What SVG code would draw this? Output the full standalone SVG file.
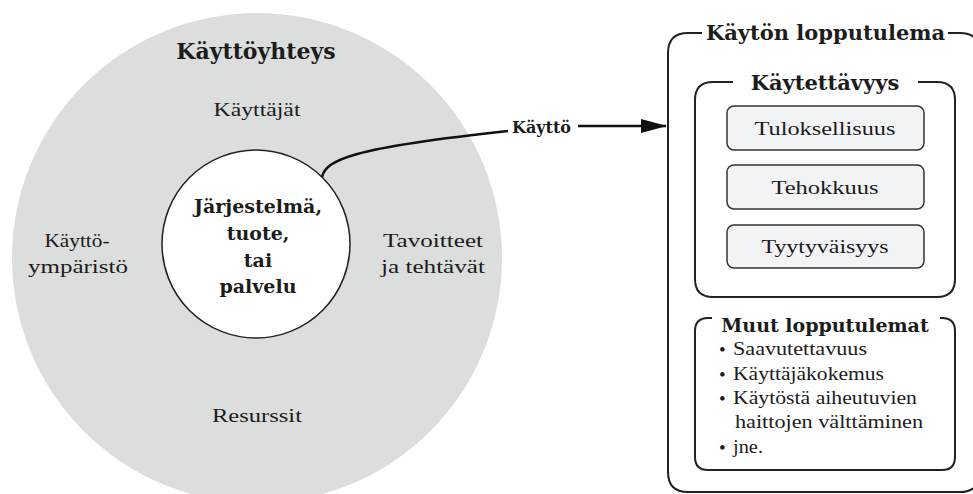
<svg xmlns="http://www.w3.org/2000/svg" width="973" height="494" viewBox="0 0 973 494">
<style>
text{font-family:"Liberation Serif","DejaVu Serif",serif;fill:#1c1c1c}
.r{font-size:18px}
.b{font-family:"DejaVu Serif","Liberation Serif",serif;font-weight:bold}
.m{text-anchor:middle}
.dot{font-size:19px}
.frame{fill:none;stroke:#222;stroke-width:2}
.sub{fill:#f2f3f4;stroke:#333;stroke-width:1.5}
.conn{fill:none;stroke:#111;stroke-width:2.5}
</style>
<defs>
<marker id="arr" viewBox="0 0 26 14" refX="25" refY="7" markerWidth="26" markerHeight="14" markerUnits="userSpaceOnUse" orient="auto">
<path d="M0,0 L26,7 L0,14 Z" fill="#111"/>
</marker>
</defs>
<g id="context">
<circle cx="257" cy="258" r="245" fill="#dbdedd"/>
<text class="b m" x="256" y="59" font-size="22">Käyttöyhteys</text>
<text class="r m" x="257" y="116" textLength="87" lengthAdjust="spacingAndGlyphs">Käyttäjät</text>
<text class="r m" x="77" y="247" textLength="65" lengthAdjust="spacingAndGlyphs">Käyttö-</text>
<text class="r m" x="78" y="273" textLength="100" lengthAdjust="spacingAndGlyphs">ympäristö</text>
<text class="r m" x="433" y="247" textLength="100" lengthAdjust="spacingAndGlyphs">Tavoitteet</text>
<text class="r m" x="433" y="273" textLength="104" lengthAdjust="spacingAndGlyphs">ja tehtävät</text>
<text class="r m" x="257" y="422" textLength="90" lengthAdjust="spacingAndGlyphs">Resurssit</text>
</g>
<g id="system">
<circle cx="256" cy="244" r="94" fill="#fff" stroke="#222" stroke-width="1.5"/>
<text class="b m" x="258" y="213" font-size="19">Järjestelmä,</text>
<text class="b m" x="258" y="240" font-size="19">tuote,</text>
<text class="b m" x="258" y="267" font-size="19">tai</text>
<text class="b m" x="258" y="293" font-size="19">palvelu</text>
</g>
<g id="connectors">
<path class="conn" d="M322,177 C326,160 350,148 508,131"/>
<text class="b" x="512" y="133" font-size="16">Käyttö</text>
<line class="conn" x1="578" y1="126" x2="666" y2="126" marker-end="url(#arr)"/>
</g>
<g id="outcome">
<path class="frame" d="M702,33 L688,33 Q668,33 668,53 L668,472 Q668,492 688,492 L960,492 Q980,492 980,472 L980,53 Q980,33 960,33 L948,33"/>
<text class="b" x="706" y="40" font-size="21">Käytön lopputulema</text>
</g>
<g id="usability">
<path class="frame" d="M733,82 L713,82 Q695,82 695,100 L695,279 Q695,297 713,297 L937,297 Q955,297 955,279 L955,100 Q955,82 937,82 L918,82"/>
<text class="b m" x="825" y="90" font-size="21">Käytettävyys</text>
</g>
<g id="effectiveness">
<rect class="sub" x="727" y="106" width="197" height="44" rx="7"/>
<text class="r m" x="825" y="135" textLength="141" lengthAdjust="spacingAndGlyphs">Tuloksellisuus</text>
</g>
<g id="efficiency">
<rect class="sub" x="727" y="165" width="197" height="44" rx="7"/>
<text class="r m" x="825" y="194" textLength="107" lengthAdjust="spacingAndGlyphs">Tehokkuus</text>
</g>
<g id="satisfaction">
<rect class="sub" x="727" y="225" width="197" height="43" rx="7"/>
<text class="r m" x="825" y="253" textLength="127" lengthAdjust="spacingAndGlyphs">Tyytyväisyys</text>
</g>
<g id="other">
<path class="frame" d="M712,318 L708,318 Q695,318 695,331 L695,457 Q695,470 708,470 L942,470 Q955,470 955,457 L955,331 Q955,318 942,318 L940,318"/>
<text class="b m" x="825" y="332" font-size="19">Muut lopputulemat</text>
<text class="dot" x="719" y="356">•</text>
<text class="r" x="733" y="355" textLength="134" lengthAdjust="spacingAndGlyphs">Saavutettavuus</text>
<text class="dot" x="719" y="381">•</text>
<text class="r" x="733" y="380" textLength="151" lengthAdjust="spacingAndGlyphs">Käyttäjäkokemus</text>
<text class="dot" x="719" y="405">•</text>
<text class="r" x="733" y="404" textLength="184" lengthAdjust="spacingAndGlyphs">Käytöstä aiheutuvien</text>
<text class="r" x="735" y="428" textLength="188" lengthAdjust="spacingAndGlyphs">haittojen välttäminen</text>
<text class="dot" x="719" y="454">•</text>
<text class="r" x="733" y="453" textLength="30" lengthAdjust="spacingAndGlyphs">jne.</text>
</g>
</svg>
